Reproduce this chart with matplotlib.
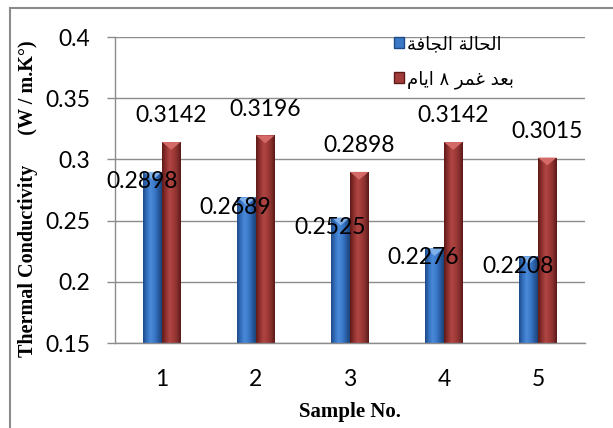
import numpy as np
import matplotlib
matplotlib.use("Agg")
import matplotlib.pyplot as plt
from matplotlib.colors import LinearSegmentedColormap
from matplotlib.lines import Line2D
from matplotlib.patches import Polygon, Patch

# ---------- data ----------
samples = ["1", "2", "3", "4", "5"]
dry = [0.2898, 0.2689, 0.2525, 0.2276, 0.2208]
soaked = [0.3142, 0.3196, 0.2898, 0.3142, 0.3015]
# Arabic legend labels, pre-shaped (presentation forms, visual order)
label_dry = "\uFE94\uFED3\uFE8E\uFEA0\uFEDF\uFE8D \uFE94\uFEDF\uFE8E\uFEA4\uFEDF\uFE8D"        # الحالة الجافة
label_soaked = "\uFEE1\uFE8E\uFEF3\uFE8D \u0668 \uFEAE\uFEE4\uFECF \uFEAA\uFECC\uFE91"         # بعد غمر ٨ ايام
yticks = [0.15, 0.2, 0.25, 0.3, 0.35, 0.4]
ytick_labels = ["0.15", "0.2", "0.25", "0.3", "0.35", "0.4"]

BLUE = "#3B78C8"
RED = "#A23B39"
GRID = "#8C8C8C"
NUM_FONT = "Lato"

fig = plt.figure(figsize=(6.13, 4.28), dpi=100)
ax = fig.add_axes([115 / 613, 85 / 428, 470 / 613, 306 / 428])

x = np.arange(1, len(samples) + 1)
w = 0.197
b1 = ax.bar(x - w / 2, dry, width=w, color=BLUE, zorder=2)
b2 = ax.bar(x + w / 2, soaked, width=w, color=RED, zorder=2)

ax.set_xlim(0.5, 5.5)
ax.set_ylim(0.15, 0.4)

# excel-2007 style shading: horizontal gradient clipped to each bar
cm_blue = LinearSegmentedColormap.from_list(
    "b", ["#1E4A85", "#3470C0", "#4A8AD8", "#3C7ACB", "#2A5EA6", "#1C4378"])
cm_red = LinearSegmentedColormap.from_list(
    "r", ["#5E1A19", "#8E302E", "#B04644", "#A23B39", "#86302E", "#5A1918"])
grad = np.linspace(0, 1, 64).reshape(1, -1)
for bars, cmap, tip in ((b1, cm_blue, "#7FB0EA"), (b2, cm_red, "#D46A68")):
    for p in bars.patches:
        x0, y0 = p.get_x(), p.get_y()
        x1, y1 = x0 + p.get_width(), y0 + p.get_height()
        im = ax.imshow(grad, cmap=cmap, extent=[x0, x1, 0.15, y1],
                       aspect="auto", zorder=2.1, interpolation="bicubic")
        im.set_clip_path(p)
        dh = 0.004
        ax.add_patch(Polygon([[x0, y1], [x1, y1], [(x0 + x1) / 2, y1 - dh * 1.6]],
                             closed=True, facecolor=tip, edgecolor="none", zorder=2.2))

ax.set_xlim(0.5, 5.5)
ax.set_ylim(0.15, 0.4)

# grid / spines
ax.set_yticks(yticks)
ax.set_yticklabels(ytick_labels)
ax.yaxis.grid(True, color=GRID, linewidth=1.0, zorder=0)
ax.set_axisbelow(True)
for s in ("top", "right"):
    ax.spines[s].set_visible(False)
for s in ("left", "bottom"):
    ax.spines[s].set_color(GRID)
    ax.spines[s].set_linewidth(1.0)
ax.tick_params(axis="y", length=6, width=1.0, color=GRID, pad=12,
               labelsize=16.5, direction="out")
ax.set_xticks(x)
ax.set_xticklabels(samples)
ax.tick_params(axis="x", length=0, pad=19, labelsize=16.5)
for t in ax.get_xticklabels() + ax.get_yticklabels():
    t.set_fontfamily(NUM_FONT)

# data labels
for xi, v in zip(x, dry):
    ax.annotate(f"{v:.4f}", (xi - w / 2, v), xytext=(-8, -7), textcoords="offset points",
                ha="center", va="center", fontsize=16.5, family=NUM_FONT, zorder=5)
for xi, v in zip(x, soaked):
    ax.annotate(f"{v:.4f}", (xi + w / 2, v), xytext=(0, 19), textcoords="offset points",
                ha="center", va="center", fontsize=16.5, family=NUM_FONT, zorder=5)

# legend
handles = [Patch(facecolor=BLUE, edgecolor="#1E4A85"), Patch(facecolor=RED, edgecolor="#5E1A19")]
leg = ax.legend(handles, [label_dry, label_soaked], loc="upper left",
                bbox_to_anchor=(394 / 613, 1 - 35 / 428), bbox_transform=fig.transFigure,
                frameon=False, prop={"family": "DejaVu Sans", "size": 13},
                handlelength=0.55, handleheight=0.55, handletextpad=0.15,
                labelspacing=0.95, borderaxespad=0, borderpad=0)

# axis titles
fig.text(350 / 613, 1 - 412 / 428, "Sample No.", ha="center", va="center",
         family="Liberation Serif", fontweight="bold", fontsize=15)
fig.text(28 / 613, 1 - 199 / 428, "Thermal Conductivity      (W / m.K\u00b0)",
         rotation=90, ha="center", va="center",
         family="Liberation Serif", fontweight="bold", fontsize=14.5)

# outer frame (left and top edges visible)
fig.add_artist(Line2D([10 / 613, 10 / 613], [0, 1 - 8 / 428], transform=fig.transFigure,
                      color="#8C8C8C", linewidth=1.5))
fig.add_artist(Line2D([10 / 613, 1], [1 - 8 / 428, 1 - 8 / 428], transform=fig.transFigure,
                      color="#8C8C8C", linewidth=1.5))

fig.savefig("out.png", dpi=100)
